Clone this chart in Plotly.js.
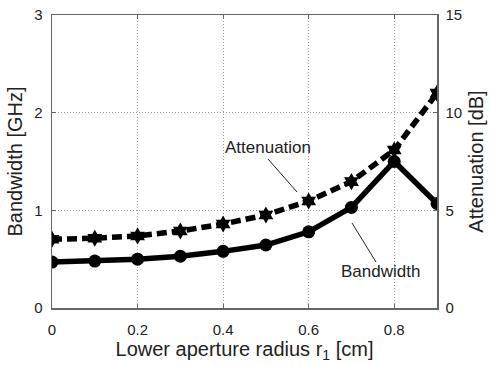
<!DOCTYPE html>
<html><head><meta charset="utf-8">
<script src="https://cdn.plot.ly/plotly-3.0.1.min.js"></script>
<style>html,body{margin:0;padding:0;background:#fff}#c{width:490px;height:365px}</style>
</head><body><div id="c"></div>
<script>
const radius = [0, 0.1, 0.2, 0.3, 0.4, 0.5, 0.6, 0.7, 0.8, 0.9];
const bandwidth = [0.47, 0.48, 0.50, 0.53, 0.58, 0.645, 0.78, 1.03, 1.50, 1.07];
const attenuation = [3.52, 3.57, 3.69, 3.94, 4.30, 4.76, 5.48, 6.47, 8.09, 11.0];
const xTicks = [0, 0.2, 0.4, 0.6, 0.8];
const xTickText = ['0', '0.2', '0.4', '0.6', '0.8'];
const yTicks = [0, 1, 2, 3];
const y2Ticks = [0, 5, 10, 15];

const F = 'Liberation Sans, Arial, sans-serif';
const traces = [
  {x: radius, y: bandwidth, type: 'scatter', mode: 'lines+markers', name: 'Bandwidth',
   line: {color: '#000', width: 5.5}, marker: {symbol: 'circle', size: 13, color: '#000'}},
  {x: radius, y: attenuation, type: 'scatter', mode: 'lines+markers', name: 'Attenuation', yaxis: 'y2',
   line: {color: '#000', width: 5.5, dash: '10px,5px'}, marker: {symbol: 'hexagram', size: 13, color: '#000'}}
];
const ax = {showline: true, linecolor: '#666', linewidth: 1.5, ticks: 'inside', ticklen: 4, tickcolor: '#666',
  showgrid: true, gridcolor: '#999', griddash: '1px,2px', gridwidth: 1, zeroline: false,
  tickfont: {family: F, size: 15, color: '#222'}, fixedrange: true};
const tf = {family: F, size: 20, color: '#222'};
const layout = {
  width: 490, height: 365, margin: {l: 52, r: 53, t: 15, b: 57},
  paper_bgcolor: '#fff', plot_bgcolor: '#fff', showlegend: false,
  font: {family: F, color: '#222'},
  xaxis: Object.assign({}, ax, {range: [0, 0.9], tickvals: xTicks, ticktext: xTickText, mirror: 'ticks', ticklabelstandoff: 7,
    title: {text: 'Lower aperture radius r<sub>1</sub> [cm]', font: tf, standoff: 4}}),
  yaxis: Object.assign({}, ax, {range: [0, 3], tickvals: yTicks, ticklabelstandoff: 5,
    title: {text: 'Bandwidth [GHz]', font: tf, standoff: 6}}),
  yaxis2: Object.assign({}, ax, {range: [0, 15], tickvals: y2Ticks, overlaying: 'y', side: 'right', showgrid: false, ticklabelstandoff: 4,
    title: {text: 'Attenuation [dB]', font: tf, standoff: 8}}),
  shapes: [
    {type: 'line', xref: 'paper', yref: 'paper', x0: (268-52)/385, y0: (308-159)/293, x1: (297-52)/385, y1: (308-192)/293, line: {color: '#222', width: 1}},
    {type: 'line', xref: 'paper', yref: 'paper', x0: (352-52)/385, y0: (308-223)/293, x1: (376-52)/385, y1: (308-262)/293, line: {color: '#222', width: 1}}
  ],
  annotations: [
    {xref: 'paper', yref: 'paper', x: (268-52)/385, y: (308-147)/293, text: 'Attenuation', showarrow: false,
     font: {family: F, size: 17, color: '#222'}, xanchor: 'center', yanchor: 'middle'},
    {xref: 'paper', yref: 'paper', x: (380-52)/385, y: (308-271)/293, text: 'Bandwidth', showarrow: false,
     font: {family: F, size: 17, color: '#222'}, xanchor: 'center', yanchor: 'middle'}
  ]
};
Plotly.newPlot('c', traces, layout, {displayModeBar: false, staticPlot: true});
</script></body></html>
